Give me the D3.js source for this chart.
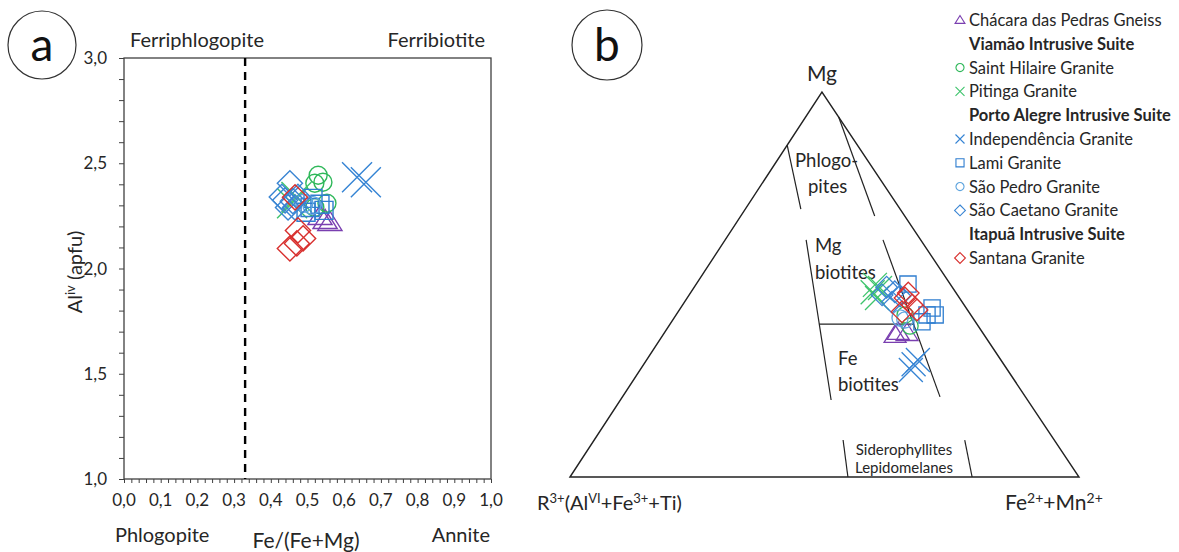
<!DOCTYPE html>
<html><head><meta charset="utf-8">
<script src="https://cdn.jsdelivr.net/npm/d3@7"></script>
<style>
body{margin:0;background:#fff}
svg{display:block}
text{font-family:Lato,"Open Sans",sans-serif;fill:#262626}
</style>
</head><body>
<svg id="c" width="1179" height="552"></svg>
<script>
// ---------------- DATA ----------------
// Panel a: x = Fe/(Fe+Mg), y = Al(iv) apfu
const xTickLabelsA = ["0,0","0,1","0,2","0,3","0,4","0,5","0,6","0,7","0,8","0,9","1,0"];
const yTickLabelsA = ["1,0","1,5","2,0","2,5","3,0"];
const dividerA = 0.33;

const chacaraA      = [[0.534,2.248],[0.548,2.229],[0.561,2.220]];
const saintHilaireA = [[0.529,2.443],[0.520,2.405],[0.542,2.410],[0.553,2.310],[0.520,2.290]];
const pitingaA      = [[0.458,2.310],[0.470,2.340]];
const independenciaA= [[0.635,2.433],[0.659,2.410]];
const lamiA         = [[0.515,2.333],[0.496,2.267],[0.534,2.305],[0.545,2.276],[0.507,2.290]];
const saoPedroA     = [[0.512,2.300],[0.490,2.310]];
const saoCaetanoA   = [[0.452,2.405],[0.439,2.324],[0.466,2.290],[0.474,2.340],[0.447,2.290],[0.430,2.340],[0.460,2.320]];
const santanaA      = [[0.466,2.338],[0.474,2.181],[0.488,2.143],[0.452,2.095],[0.471,2.119]];

// Panel b: ternary [R3+, Mg, Fe2+]
const chacaraB      = [[0.165,0.377,0.458],[0.149,0.374,0.477],[0.175,0.369,0.456]];
const saintHilaireB = [[0.129,0.421,0.450],[0.134,0.392,0.474]];
const pitingaB      = [[0.149,0.499,0.352],[0.163,0.480,0.357],[0.143,0.491,0.366],[0.162,0.465,0.373]];
const independenciaB= [[0.177,0.293,0.530],[0.163,0.304,0.533],[0.190,0.278,0.532]];
const lamiB         = [[0.083,0.501,0.416],[0.067,0.439,0.494],[0.086,0.421,0.493],[0.105,0.403,0.492],[0.070,0.421,0.509]];
const saoPedroB     = [[0.136,0.408,0.456],[0.143,0.413,0.444]];
const saoCaetanoB   = [[0.129,0.493,0.378],[0.119,0.481,0.400],[0.148,0.473,0.379],[0.138,0.454,0.408],[0.114,0.470,0.416]];
const santanaB      = [[0.107,0.465,0.428],[0.102,0.447,0.451],[0.131,0.429,0.440],[0.099,0.434,0.467],[0.094,0.478,0.428]];

// Ternary field boundaries [R, Mg, Fe] pairs
const fieldLines = [
  [[0.138,0.862,0.000],[0.195,0.696,0.109]],
  [[0.000,0.935,0.065],[0.059,0.678,0.263]],
  [[0.225,0.616,0.159],[0.386,0.200,0.414]],
  [[0.074,0.616,0.310],[0.168,0.208,0.624]],
  [[0.415,0.096,0.489],[0.454,0.000,0.546]],
  [[0.176,0.096,0.728],[0.210,0.000,0.790]]
];
const mgFeDivider = 0.397;

const legendLabels = ["Chácara das Pedras Gneiss","Viamão Intrusive Suite","Saint Hilaire Granite","Pitinga Granite",
  "Porto Alegre Intrusive Suite","Independência Granite","Lami Granite","São Pedro Granite","São Caetano Granite",
  "Itapuã Intrusive Suite","Santana Granite"];

// ---------------- STYLES ----------------
const series = [
  {a:chacaraA, b:chacaraB, shape:"tri", color:"#7a3fb0", legend:0},
  {a:saintHilaireA, b:saintHilaireB, shape:"circle", color:"#2fb85a", legend:2},
  {a:pitingaA, b:pitingaB, shape:"x", color:"#3ec46c", legend:3},
  {a:independenciaA, b:independenciaB, shape:"x", color:"#3584d4", legend:5},
  {a:lamiA, b:lamiB, shape:"square", color:"#2f7ed0", legend:6},
  {a:saoPedroA, b:saoPedroB, shape:"circle", color:"#5ea4de", legend:7},
  {a:saoCaetanoA, b:saoCaetanoB, shape:"diamond", color:"#3a85d3", legend:8},
  {a:santanaA, b:santanaB, shape:"diamond", color:"#d8302e", legend:10}
];
const headerRows = [1,4,9];

function shapePath(shape, s){
  const h = s/2;
  if(shape==="tri") return `M0,${-h*1.0}L${h*1.1},${h*0.75}L${-h*1.1},${h*0.75}Z`;
  if(shape==="circle") { const p=d3.path(); p.arc(0,0,h*0.9,0,2*Math.PI); return p.toString(); }
  if(shape==="x") return `M${-h},${-h}L${h},${h}M${-h},${h}L${h},${-h}`;
  if(shape==="square") return `M${-h*0.9},${-h*0.9}H${h*0.9}V${h*0.9}H${-h*0.9}Z`;
  if(shape==="diamond") return `M0,${-h*1.2}L${h*1.2},0L0,${h*1.2}L${-h*1.2},0Z`;
}
const sizeA = {tri:22, circle:20, x:30, square:20, diamond:21};
const sizeB = {tri:20, circle:18, x:24, square:18, diamond:18};

const svg = d3.select("#c");

// ---------------- PANEL A ----------------
const xA = d3.scaleLinear().domain([0,1]).range([124,491]);
const yA = d3.scaleLinear().domain([1,3]).range([479,58]);
const gA = svg.append("g");

gA.append("rect").attr("x",xA(0)).attr("y",yA(3)).attr("width",xA(1)-xA(0)).attr("height",yA(1)-yA(3))
  .attr("fill","none").attr("stroke","#404040").attr("stroke-width",1.3);

gA.append("g").attr("transform",`translate(0,${yA(1)})`)
  .call(d3.axisBottom(xA).tickValues(d3.range(0,51).map(i=>i/50)).tickSize(4).tickFormat(""))
  .call(g=>{g.select(".domain").remove(); g.selectAll("line").attr("stroke","#404040");});
gA.selectAll(".xtl").data(xTickLabelsA).join("text").attr("class","xtl")
  .attr("x",(d,i)=>xA(i/10)).attr("y",yA(1)+27).attr("text-anchor","middle")
  .style("font-size","17px").text(d=>d);
gA.append("g").attr("transform",`translate(${xA(0)},0)`)
  .call(d3.axisLeft(yA).tickValues(d3.range(0,21).map(i=>1+i/10)).tickSize(5).tickFormat(""))
  .call(g=>{g.select(".domain").remove(); g.selectAll("line").attr("stroke","#404040");});
gA.selectAll(".ytl").data(yTickLabelsA).join("text").attr("class","ytl")
  .attr("x",xA(0)-17).attr("y",(d,i)=>yA(1+i*0.5)+6).attr("text-anchor","end")
  .style("font-size","17px").text(d=>d);

gA.append("line").attr("x1",xA(dividerA)).attr("x2",xA(dividerA)).attr("y1",yA(3)).attr("y2",yA(1))
  .attr("stroke","#000").attr("stroke-width",2.4).attr("stroke-dasharray","8,6");

const lblA = [["Ferriphlogopite",130,47,"start"],["Ferribiotite",485,47,"end"],["Phlogopite",115,542,"start"],["Annite",490,542,"end"]];
lblA.forEach(l=>gA.append("text").attr("x",l[1]).attr("y",l[2]).attr("text-anchor",l[3]).style("font-size","20px").text(l[0]));
gA.append("text").attr("x",306).attr("y",548).attr("text-anchor","middle").style("font-size","21px").text("Fe/(Fe+Mg)");
const yl = gA.append("text").attr("transform","translate(82,272) rotate(-90)").attr("text-anchor","middle").style("font-size","20px");
yl.append("tspan").text("Al");
yl.append("tspan").attr("dy",-7).style("font-size","13px").text("iv");
yl.append("tspan").attr("dy",7).text(" (apfu)");

gA.append("circle").attr("cx",42).attr("cy",45).attr("r",34).attr("fill","none").attr("stroke","#333").attr("stroke-width",1.2);
gA.append("text").attr("x",42).attr("y",61).attr("text-anchor","middle").style("font-size","46px").style("fill","#111").text("a");

series.forEach(s=>{
  gA.append("g").selectAll("path").data(s.a).join("path")
    .attr("transform",d=>`translate(${xA(d[0])},${yA(d[1])})`)
    .attr("d",shapePath(s.shape,sizeA[s.shape]))
    .attr("fill","none").attr("stroke",s.color).attr("stroke-width",1.4);
});

// ---------------- PANEL B ----------------
const baseX = d3.scaleLinear().domain([0,1]).range([570,1079]);
const mgY = d3.scaleLinear().domain([0,1]).range([477,92]);
const apexFrac = 0.495;
const tx = p => baseX(p[2] + apexFrac*p[1]);
const ty = p => mgY(p[1]);
const gB = svg.append("g");

const tri = [[1,0,0],[0,1,0],[0,0,1]];
gB.append("path").attr("d", d3.line().x(tx).y(ty)(tri)+"Z")
  .attr("fill","none").attr("stroke","#222").attr("stroke-width",1.4);
fieldLines.forEach(l=>{
  gB.append("line").attr("x1",tx(l[0])).attr("y1",ty(l[0])).attr("x2",tx(l[1])).attr("y2",ty(l[1]))
    .attr("stroke","#222").attr("stroke-width",1.2);
});
function atMg(l, mg){ const t=(l[0][1]-mg)/(l[0][1]-l[1][1]); return l[0].map((v,i)=>v+(l[1][i]-v)*t); }
const hL = atMg(fieldLines[2], mgFeDivider), hR = atMg(fieldLines[3], mgFeDivider);
gB.append("line").attr("x1",tx(hL)).attr("y1",ty(hL)).attr("x2",tx(hR)).attr("y2",ty(hR))
  .attr("stroke","#222").attr("stroke-width",1.2);

const lblB = [["Phlogo-",795,167],["pites",808,193],["Mg",815,252],["biotites",815,279],["Fe",838,365],["biotites",838,391]];
lblB.forEach(l=>gB.append("text").attr("x",l[1]).attr("y",l[2]).style("font-size","18.5px").text(l[0]));
gB.append("text").attr("x",904).attr("y",455).attr("text-anchor","middle").style("font-size","15px").text("Siderophyllites");
gB.append("text").attr("x",904).attr("y",473).attr("text-anchor","middle").style("font-size","15px").text("Lepidomelanes");
gB.append("text").attr("x",822).attr("y",81).attr("text-anchor","middle").style("font-size","21px").text("Mg");

function supText(x,y,parts,fs,ss){
  const t = gB.append("text").attr("x",x).attr("y",y).style("font-size",fs+"px");
  let up=false;
  parts.forEach(p=>{
    const sp = t.append("tspan").text(p[0]);
    if(p[1] && !up){ sp.attr("dy",-7).style("font-size",ss+"px"); up=true; }
    else if(p[1]) sp.style("font-size",ss+"px");
    else if(!p[1] && up){ sp.attr("dy",7); up=false; }
  });
}
supText(537,510,[["R",0],["3+",1],["(Al",0],["VI",1],["+Fe",0],["3+",1],["+Ti)",0]],20,13);
supText(1005,510,[["Fe",0],["2+",1],["+Mn",0],["2+",1]],21,14);

gB.append("circle").attr("cx",607).attr("cy",45).attr("r",35).attr("fill","none").attr("stroke","#333").attr("stroke-width",1.2);
gB.append("text").attr("x",607).attr("y",61).attr("text-anchor","middle").style("font-size","46px").style("fill","#111").text("b");

series.forEach(s=>{
  gB.append("g").selectAll("path").data(s.b).join("path")
    .attr("transform",d=>`translate(${tx(d)},${ty(d)})`)
    .attr("d",shapePath(s.shape,sizeB[s.shape]))
    .attr("fill","none").attr("stroke",s.color).attr("stroke-width",1.3);
});

// ---------------- LEGEND ----------------
const legY = d3.scaleLinear().domain([0,10]).range([20,258]);
const gL = svg.append("g");
legendLabels.forEach((lab,i)=>{
  gL.append("text").attr("x",969).attr("y",legY(i)+6)
    .style("font-size","16.5px").style("font-weight",headerRows.includes(i)?"700":"400").text(lab);
});
series.forEach(s=>{
  gL.append("path").attr("transform",`translate(960,${legY(s.legend)})`)
    .attr("d",shapePath(s.shape,9)).attr("fill","none").attr("stroke",s.color).attr("stroke-width",1.1);
});
</script>
</body></html>
